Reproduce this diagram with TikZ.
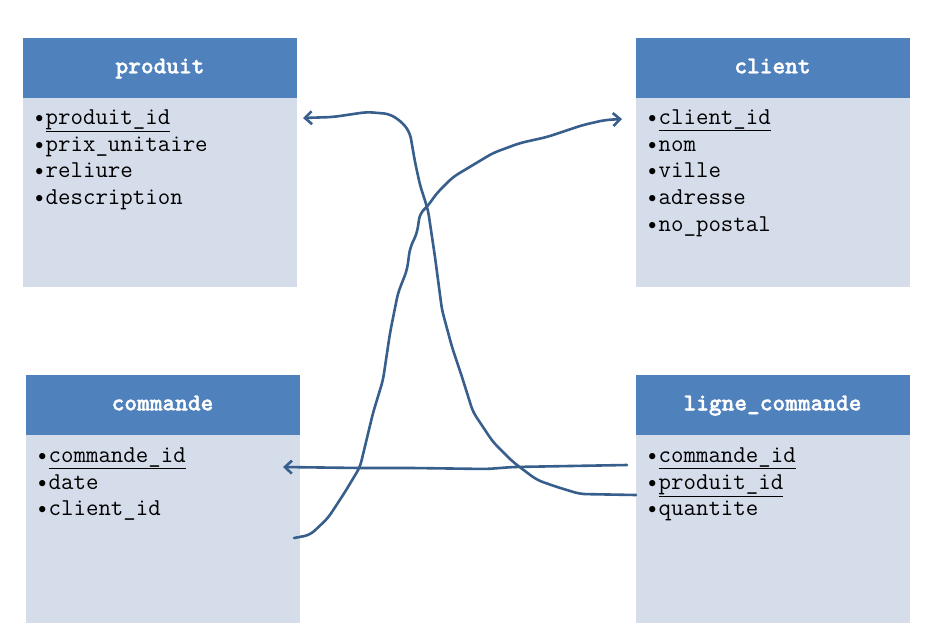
\documentclass[tikz,border=0pt]{standalone}
\usepackage{fontspec}
\newfontfamily\hdrfont[FakeBold=1.6]{lmmonolt10-bold.otf}
\usetikzlibrary{positioning,arrows.meta}
\definecolor{hdrblue}{RGB}{79,129,189}
\definecolor{bodyblue}{RGB}{213,221,234}
\definecolor{linkblue}{RGB}{56,94,140}
\tikzset{
  hdr/.style={fill=hdrblue, minimum width=274pt, minimum height=60pt, inner sep=0pt, outer sep=0pt,
    text height=15pt, text depth=4.4pt,
    text=white, font=\hdrfont\fontsize{24.2}{26.7}\selectfont},
  bodybox/.style={fill=bodyblue, minimum width=274pt, minimum height=188pt, inner sep=0pt, outer sep=0pt},
  field/.style={anchor=base west, inner sep=0pt, font=\ttfamily\fontsize{24.2}{26.7}\selectfont},
  link/.style={draw=linkblue, line width=2.6pt, rounded corners=6pt, line cap=round},
  tip/.style={-{Straight Barb[length=7pt,width=13pt]}}
}
\begin{document}
\begin{tikzpicture}[x=1pt, y=-1pt]
\useasboundingbox (0,0) rectangle (936,640);

\node[hdr] (produit) at (160,68) {produit};
\node[bodybox, below=0pt of produit, minimum height=189pt] (produitB) {};
\node[hdr] (client) at (772.5,68) {client};
\node[bodybox, below=0pt of client, minimum height=189pt] (clientB) {};
\node[hdr] (commande) at (162.5,405) {commande};
\node[bodybox, below=0pt of commande] (commandeB) {};
\node[hdr] (lcommande) at (772.5,405) {ligne\_commande};
\node[bodybox, below=0pt of lcommande] (lcommandeB) {};

% produit
\node[field] (p1) at (33,124) {\textbullet\underline{produit\_id}};
\node[field] (p2) at (33,151) {\textbullet prix\_unitaire};
\node[field] (p3) at (33,177) {\textbullet reliure};
\node[field] (p4) at (33,204) {\textbullet description};

% client
\node[field] (c1) at (646,124) {\textbullet\underline{client\_id}};
\node[field] (c2) at (646,151) {\textbullet nom};
\node[field] (c3) at (646,177) {\textbullet ville};
\node[field] (c4) at (646,204) {\textbullet adresse};
\node[field] (c5) at (646,231) {\textbullet no\_postal};

% commande
\node[field] (m1) at (36,462) {\textbullet\underline{commande\_id}};
\node[field] (m2) at (36,489) {\textbullet date};
\node[field] (m3) at (36,515) {\textbullet client\_id};

% ligne_commande
\node[field] (l1) at (646,462) {\textbullet\underline{commande\_id}};
\node[field] (l2) at (646,489) {\textbullet\underline{produit\_id}};
\node[field] (l3) at (646,515) {\textbullet quantite};

\coordinate (lc-pid) at (636,495);
\coordinate (p-pid) at (303,118);
\coordinate (m-cid) at (294,538);
\coordinate (c-cid) at (622,119);
\coordinate (lc-mid) at (627,465);
\coordinate (m-mid) at (283,467);

\draw[link, tip] (lc-pid) -- (580,494) -- (557,487) -- (537,480) -- (513,462) -- (493,442)
  -- (473,412) -- (462,377) -- (452,347) -- (442,310) -- (435,257) -- (428,210) -- (420,185)
  -- (415,162) -- (410,133) -- (403,123) -- (390,114) -- (367,112) -- (333,117) -- (p-pid);
\draw[link, tip] (m-cid) -- (310,535) -- (328,518) -- (345,492) -- (360,467) -- (373,413)
  -- (383,380) -- (390,333) -- (398,293) -- (407,270) -- (410,248) -- (417,233) -- (420,213)
  -- (427,207) -- (437,193) -- (453,177) -- (473,165) -- (493,153) -- (520,143) -- (547,137)
  -- (583,125) -- (605,120) -- (c-cid);
\draw[link, tip] (lc-mid) -- (513,467) -- (487,469) -- (413,468) -- (360,468) -- (m-mid);
\end{tikzpicture}
\end{document}
